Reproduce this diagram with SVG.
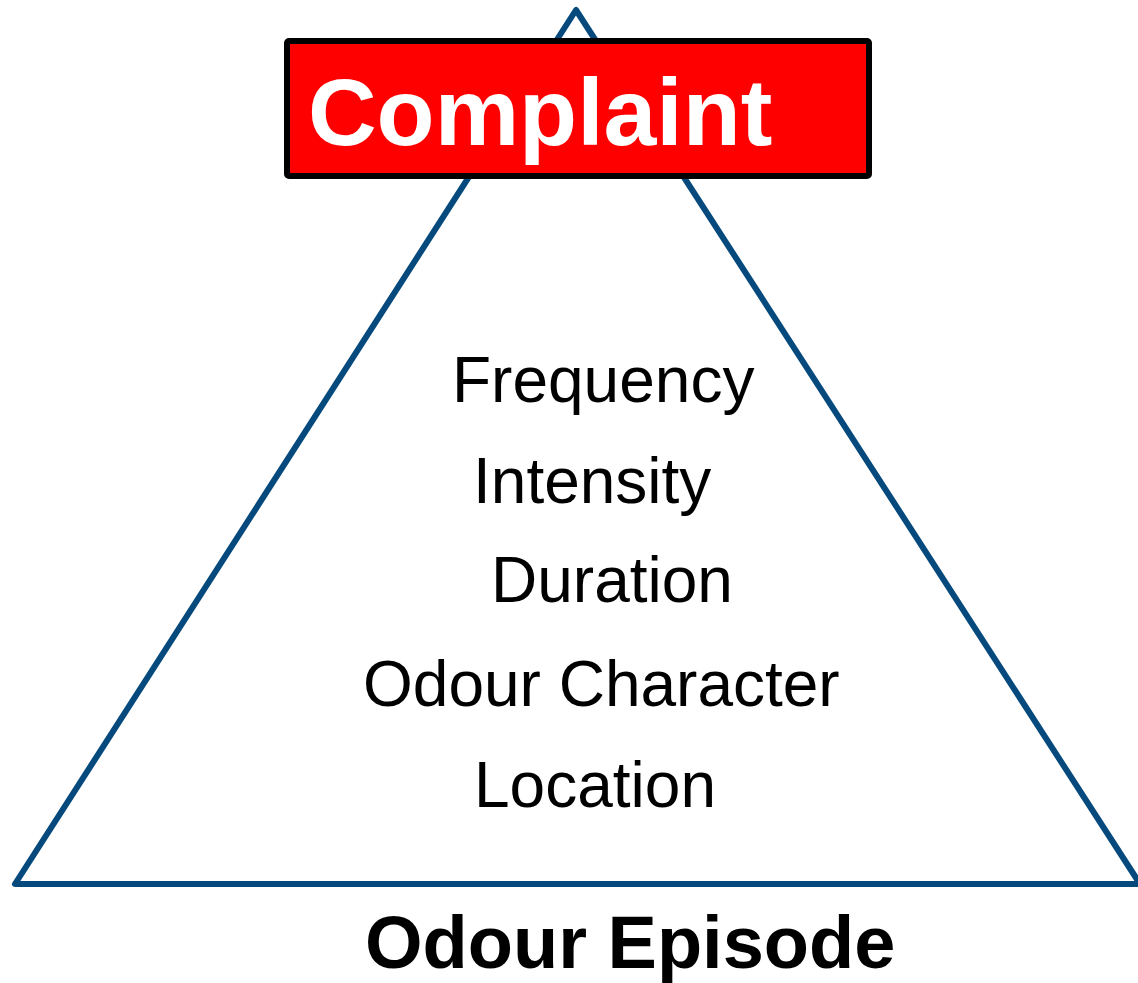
<svg xmlns="http://www.w3.org/2000/svg" width="1138" height="983" viewBox="0 0 1138 983">
  <style>
    .edge { fill: none; stroke: #064a7d; stroke-width: 6; stroke-linejoin: round; stroke-linecap: round; }
    .item { font-family: "Liberation Sans", Arial, sans-serif; font-size: 64px; fill: #000; }
    .title { font-family: "Liberation Sans", Arial, sans-serif; font-weight: bold; }
  </style>
  <rect width="1138" height="983" fill="#fff"/>

  <!-- pyramid outline -->
  <g id="pyramid">
    <polygon class="edge" points="576,10 15,884 1140,884"/>
  </g>

  <!-- top label -->
  <g id="complaint">
    <rect x="287" y="41" width="582" height="135" rx="2" fill="#ff0000" stroke="#000" stroke-width="6"/>
    <text class="title" x="308" y="145" font-size="95" fill="#fff">Complaint</text>
  </g>

  <!-- attributes listed inside the pyramid -->
  <g id="attributes">
    <text class="item" x="452" y="402">Frequency</text>
    <text class="item" x="473" y="503">Intensity</text>
    <text class="item" x="491" y="602">Duration</text>
    <text class="item" x="363" y="706">Odour Character</text>
    <text class="item" x="474" y="807">Location</text>
  </g>

  <!-- base label -->
  <g id="episode">
    <text class="title" x="365" y="968" font-size="74" fill="#000">Odour Episode</text>
  </g>
</svg>
